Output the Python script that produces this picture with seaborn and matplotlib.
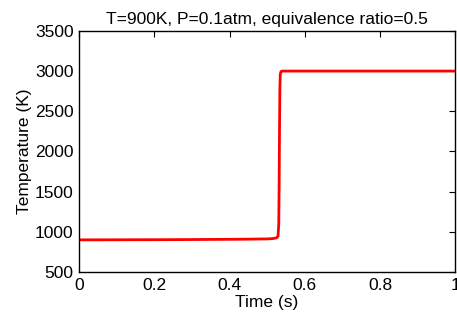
import pandas as pd
import seaborn as sns
import matplotlib
matplotlib.use("Agg")
import matplotlib.pyplot as plt

# values
time_s = [0.0, 0.1, 0.2, 0.3, 0.4, 0.45, 0.5, 0.515, 0.525, 0.529, 0.531, 0.532,
          0.533, 0.534, 0.535, 0.537, 0.54, 0.6, 0.7, 0.8, 0.9, 1.0]
temperature_k = [900, 901, 902, 904, 907, 909, 912, 916, 925, 945, 1100, 1600,
                 2300, 2800, 2960, 2995, 3000, 3000, 3000, 3000, 3000, 3000]

df = pd.DataFrame({"Time (s)": time_s, "Temperature (K)": temperature_k})

sns.set_style("white")
plt.rcParams["font.family"] = ["Liberation Sans", "DejaVu Sans"]
plt.rcParams["font.size"] = 12.5
plt.rcParams["text.color"] = "black"
plt.rcParams["axes.labelcolor"] = "black"

fig = plt.figure(figsize=(4.57, 3.25), dpi=100)
ax = fig.add_axes([0.173, 0.163, 0.823, 0.742])

sns.lineplot(data=df, x="Time (s)", y="Temperature (K)", color="red",
             linewidth=2, ax=ax)

ax.set_xlim(0, 1)
ax.set_ylim(500, 3500)
ax.set_xticks([0, 0.2, 0.4, 0.6, 0.8, 1])
ax.set_xticklabels(["0", "0.2", "0.4", "0.6", "0.8", "1"])
ax.set_yticks(range(500, 3501, 500))
ax.tick_params(direction="in", top=True, right=True, length=4, width=0.8,
               colors="black", labelsize=12.5, pad=4)
for s in ax.spines.values():
    s.set_visible(True)
    s.set_color("black")
    s.set_linewidth(1)
ax.set_xlabel("Time (s)", fontsize=12.5, labelpad=2, color="black")
ax.set_ylabel("Temperature (K)", fontsize=12.5, labelpad=2, color="black")
ax.set_title("T=900K, P=0.1atm, equivalence ratio=0.5", fontsize=12.5, pad=5,
             color="black")

fig.savefig("out.png", dpi=100)
